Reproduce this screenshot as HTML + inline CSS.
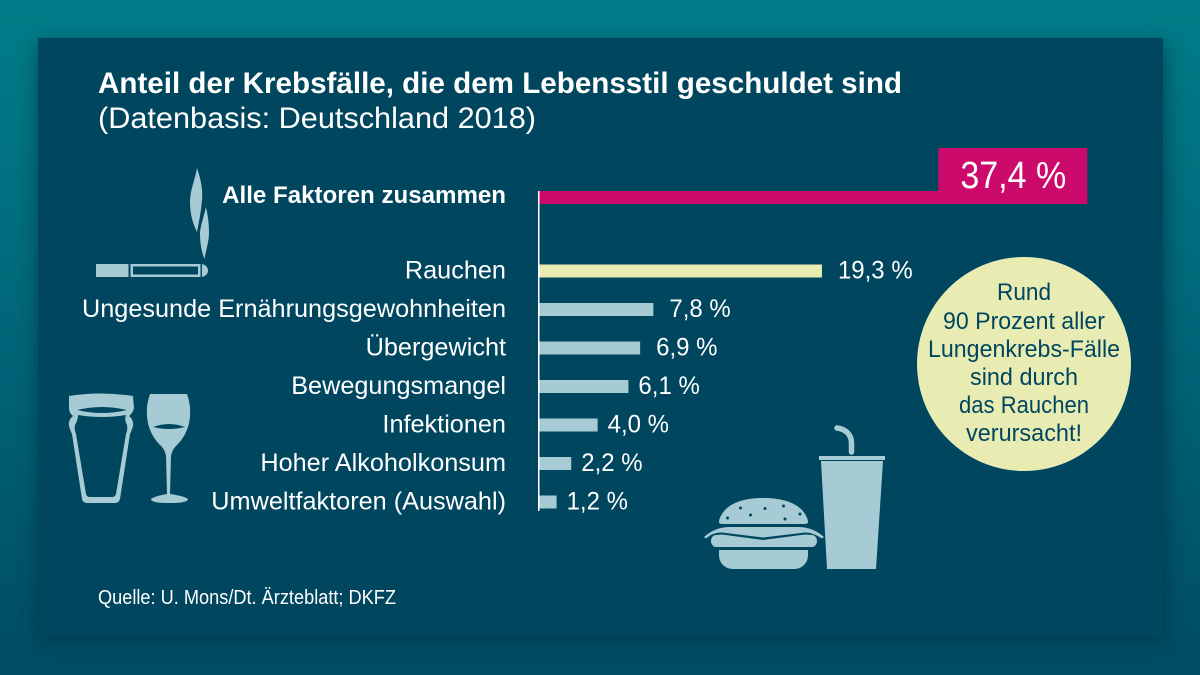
<!DOCTYPE html>
<html lang="de">
<head>
<meta charset="utf-8">
<title>Anteil der Krebsfälle</title>
<style>
html,body{margin:0;padding:0;width:1200px;height:675px;overflow:hidden;background:#005068}
svg{display:block}
text{font-family:"Liberation Sans","DejaVu Sans",sans-serif}
</style>
</head>
<body>
<svg id="chart" width="1200" height="675" viewBox="0 0 1200 675" xmlns="http://www.w3.org/2000/svg">
<defs>
<linearGradient id="bg" x1="0" y1="0" x2="0" y2="1">
<stop offset="0" stop-color="#007d88"/><stop offset="0.45" stop-color="#00687a"/><stop offset="1" stop-color="#004c64"/>
</linearGradient>
<filter id="sh" x="-5%" y="-5%" width="110%" height="112%"><feGaussianBlur stdDeviation="10"/></filter>
</defs>
<rect width="1200" height="675" fill="url(#bg)"/>
<rect x="38" y="44" width="1128" height="597" fill="#00293a" opacity="0.6" filter="url(#sh)"/>
<rect x="38" y="38" width="1125" height="599" fill="#00465f"/>

<text x="98" y="93" font-size="30" font-weight="700" fill="#fff" textLength="804" lengthAdjust="spacingAndGlyphs">Anteil der Krebsfälle, die dem Lebensstil geschuldet sind</text>
<text x="98" y="128" font-size="30" fill="#fff" textLength="438" lengthAdjust="spacingAndGlyphs">(Datenbasis: Deutschland 2018)</text>

<g id="bars"></g>

<g fill="#a6cbd4">
<rect x="96" y="264" width="32.500" height="13"/>
<path fill-rule="evenodd" d="M130.500 264h70v13h-70zM133 266.500v8h65v-8z"/>
<path d="M202 264c4 1 6 3.500 6 6.500s-2 5.500-6 6.500z"/>
<path d="M197 168C201 180 203 190 202 200C201 212 199 222 197 232C192 222 190 212 190 202C190 190 195 180 197 168z"/>
<path d="M206 207C208 216 209 224 209 232C209 242 206 250 204.500 259C201 250 200 242 200 232C201 224 204 216 206 207z"/>
</g>

<g fill="#a6cbd4">
<path fill-rule="evenodd" d="M69 396Q101 391 133 396L134 408Q133 413 129 416Q134 420 133 426Q132 430 130 434L120 499Q119 503 115 503H87Q83 503 82 499L72 434Q70 430 69 426Q68 420 73 416Q69 413 69 408zM77 410Q102 416 127 410Q102 404 77 410zM78 415Q102 419 126 415Q124 420 127 425Q128 429 126 434L116 494Q115 497 112 497H90Q87 497 86 494L76 434Q74 429 75 425Q78 420 78 415z"/>
<path fill-rule="evenodd" d="M150 394H187Q191 405 190 416Q189 432 178 444Q172 449 171 456L170 494Q184 496 188 499Q188 503 170 503H168Q151 503 151 499Q155 496 167 494L166 456Q165 449 159 444Q148 432 147 416Q146 405 150 394zM153 427Q169 431 185 427Q169 421 153 427z"/>
</g>

<g fill="#a6cbd4">
<path d="M719 522c0-2 1-5 3-8 6-10 20-16 41-16 22 0 36 6 42 16 2 3 3 6 3 8 0 1-1 2-3 2h-83c-2 0-3-1-3-2z"/>
<g fill="#00465f"><circle cx="740.500" cy="508" r="1.500"/><circle cx="765" cy="508.500" r="1.500"/><circle cx="783.500" cy="506" r="1.500"/><circle cx="800" cy="514" r="1.500"/><circle cx="727.500" cy="518" r="1.500"/><circle cx="750.500" cy="515" r="1.500"/><circle cx="785" cy="519" r="1.500"/></g>
<path d="M704 537C712 530 720 527 730 527H798C808 527 816 530 824 537L822 538.500C815 534 810 532.500 805 532.500L763 537.500L722 532.500C716 532.500 711 534 706 538.500z"/>
<path d="M716 535L722 534.500L763 540L805 534.500L812 535C815 535 817 538 817 541S815 547 812 547H716C713 547 711 544 711 541S713 535 716 535z"/>
<path d="M719 550H808V555C808 563 802 569 794 569H733C725 569 719 563 719 555z"/>
<path d="M819 456h66v4h-66zM821 461h62l-7 108h-49z"/>
<path fill="none" stroke="#a6cbd4" stroke-width="5.500" stroke-linecap="round" d="M837 428c8 1 14.500 6 14.500 15v9"/>
</g>

<circle cx="1024" cy="364" r="107" fill="#e9ecb2"/>
<g fill="#00465f" font-size="24" text-anchor="middle">
<text x="1024" y="300" textLength="54" lengthAdjust="spacingAndGlyphs">Rund</text>
<text x="1024" y="329" textLength="162" lengthAdjust="spacingAndGlyphs">90 Prozent aller</text>
<text x="1024" y="357" textLength="192" lengthAdjust="spacingAndGlyphs">Lungenkrebs-Fälle</text>
<text x="1024" y="385" textLength="108" lengthAdjust="spacingAndGlyphs">sind durch</text>
<text x="1024" y="413" textLength="130" lengthAdjust="spacingAndGlyphs">das Rauchen</text>
<text x="1024" y="441" textLength="116" lengthAdjust="spacingAndGlyphs">verursacht!</text>
</g>

<text x="98" y="604" font-size="20" fill="#fff" textLength="298" lengthAdjust="spacingAndGlyphs">Quelle: U. Mons/Dt. Ärzteblatt; DKFZ</text>
</svg>
<script>
const categories = ["Rauchen", "Ungesunde Ernährungsgewohnheiten", "Übergewicht", "Bewegungsmangel", "Infektionen", "Hoher Alkoholkonsum", "Umweltfaktoren (Auswahl)"];
const seriesValues = [19.3, 7.8, 6.9, 6.1, 4.0, 2.2, 1.2];
const valueLabels = ["19,3 %", "7,8 %", "6,9 %", "6,1 %", "4,0 %", "2,2 %", "1,2 %"];
const totalCategory = ["Alle Faktoren zusammen"];
const totalValue = [37.4];
const totalLabel = ["37,4 %"];

const NS = "http://www.w3.org/2000/svg";
const group = document.getElementById("bars");
const x0 = 539;
const xScale = v => x0 + v * 14.66;
const yScale = i => 271 + i * 38.5;

function addText(txt, x, y, size, anchor, fill, weight, squeeze) {
  const t = document.createElementNS(NS, "text");
  t.textContent = txt;
  t.setAttribute("x", x);
  t.setAttribute("y", y);
  t.setAttribute("font-size", size);
  t.setAttribute("text-anchor", anchor);
  t.setAttribute("fill", fill);
  if (weight) t.setAttribute("font-weight", weight);
  group.appendChild(t);
  const w = t.getComputedTextLength();
  t.setAttribute("textLength", w * squeeze);
  t.setAttribute("lengthAdjust", "spacingAndGlyphs");
  return t;
}
function addRect(x, y, w, h, fill) {
  const r = document.createElementNS(NS, "rect");
  r.setAttribute("x", x);
  r.setAttribute("y", y);
  r.setAttribute("width", w);
  r.setAttribute("height", h);
  r.setAttribute("fill", fill);
  group.appendChild(r);
  return r;
}

const totalEnd = xScale(totalValue[0]);
const totalBar = addRect(x0, 191, totalEnd - x0, 13, "#cb0a6c");


const totalBox = addRect(totalEnd - 149, 148, 149, 56, "#cb0a6c");


const totalText = addText(totalLabel[0], totalEnd - 74, 188, 38, "middle", "#fff", null, 0.895);


const totalCat = addText(totalCategory[0], 506, 203, 24, "end", "#fff", "700", 1.004);



categories.forEach((c, i) => {
  const y = yScale(i);
  const end = xScale(seriesValues[i]);
  const bar = addRect(x0, y - 6.5, end - x0, 13, i === 0 ? "#e9ecb2" : "#a6cbd4");
  
  
  const label = addText(c, 506, y + 7.5, 25, "end", "#ffffff", null, 1.01);
  
  
  const gap = seriesValues[i] >= 6.5 ? 16 : 10;
  const val = addText(valueLabels[i], end + gap, y + 7.5, 25, "start", "#ffffff", null, 0.96);
  
  
});

const axis = addRect(538, 191, 1.500, 320, "#ffffff");


</script>
</body>
</html>
